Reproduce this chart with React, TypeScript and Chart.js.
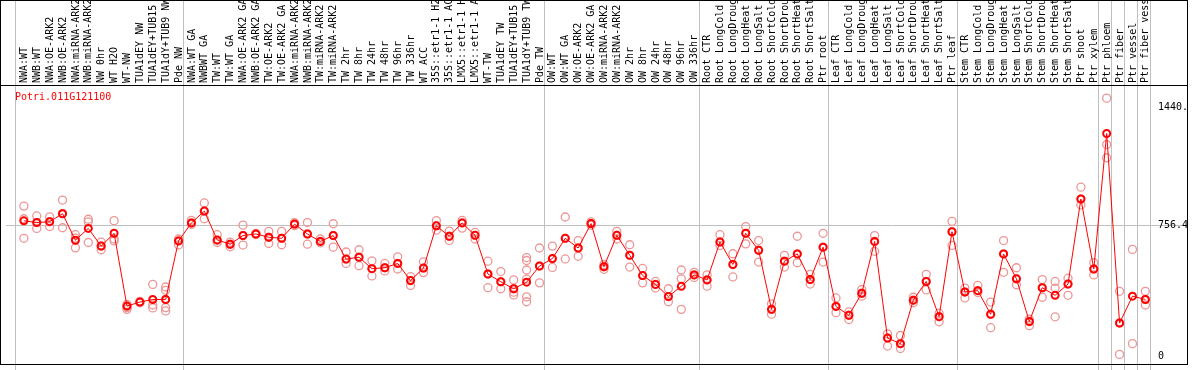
import React, { useEffect, useRef } from "react";
import { Chart, registerables } from "chart.js";

Chart.register(...registerables);

const geneName = "Potri.011G121100";

const groupSizes = [13, 28, 12, 10, 10, 11, 1, 1, 1, 1];

const categories = [
  "NWA:WT", "NWB:WT", "NWA:OE-ARK2", "NWB:OE-ARK2", "NWA:miRNA-ARK2", "NWB:miRNA-ARK2", "NW 0hr", "WT H2O", "WT-NW", "TUA1dEY NW", "TUA1dEY+TUB15", "TUA1dY+TUB9 NW", "Pde NW",
  "NWA:WT GA", "NWBWT GA", "TW:WT", "TW:WT GA", "NWA:OE-ARK2 GA", "NWB:OE-ARK2 GA", "TW:OE-ARK2", "TW:OE-ARK2 GA", "NWA:miRNA-ARK2", "NWB:miRNA-ARK2", "TW:miRNA-ARK2", "TW:miRNA-ARK2", "TW 2hr", "TW 8hr", "TW 24hr", "TW 48hr", "TW 96hr", "TW 336hr", "WT ACC", "35S::etr1-1 H2O", "35S::etr1-1 ACC", "LMX5::etr1-1 H2O", "LMX5::etr1-1 ACC", "WT-TW", "TUA1dEY TW", "TUA1dEY+TUB15", "TUA1dY+TUB9 TW", "Pde TW",
  "OW:WT", "OW:WT GA", "OW:OE-ARK2", "OW:OE-ARK2 GA", "OW:miRNA-ARK2", "OW:miRNA-ARK2", "OW 2hr", "OW 8hr", "OW 24hr", "OW 48hr", "OW 96hr", "OW 336hr",
  "Root CTR", "Root LongCold", "Root LongDrought", "Root LongHeat", "Root LongSalt", "Root ShortCold", "Root ShortDrought", "Root ShortHeat", "Root ShortSalt", "Ptr root",
  "Leaf CTR", "Leaf LongCold", "Leaf LongDrought", "Leaf LongHeat", "Leaf LongSalt", "Leaf ShortCold", "Leaf ShortDrought", "Leaf ShortHeat", "Leaf ShortSalt", "Ptr leaf",
  "Stem CTR", "Stem LongCold", "Stem LongDrought", "Stem LongHeat", "Stem LongSalt", "Stem ShortCold", "Stem ShortDrought", "Stem ShortHeat", "Stem ShortSalt", "Ptr shoot", "Ptr xylem",
  "Ptr phloem", "Ptr fiber", "Ptr vessel", "Ptr fiber vessel",
];

const means = [
  785, 775, 780, 826, 673, 741, 639, 713, 293, 316, 331, 331, 669,
  773, 841, 675, 650, 700, 709, 690, 684, 766, 709, 666, 700, 564, 575, 509, 514, 539, 440, 512, 756, 696, 773, 701, 478, 433, 393, 431, 524,
  567, 684, 628, 769, 520, 701, 586, 469, 418, 348, 407, 473,
  444, 663, 533, 713, 615, 274, 552, 594, 446, 633,
  291, 240, 367, 666, 108, 76, 327, 435, 232, 722,
  374, 382, 246, 594, 450, 204, 399, 355, 420, 911, 507,
  1289, 195, 350, 331,
];

const replicates = [
  [870, 797, 684], [813, 775, 741], [808, 780, 752], [905, 828, 745], [705, 685, 629], [794, 779, 660], [662, 639, 618], [786, 680, 669], [303, 293, 284, 274], [320, 316, 312], [418, 299, 282], [403, 384, 331, 284, 265], [680, 669, 646],
  [788, 773, 764], [888, 841, 797], [705, 671, 660], [662, 650, 635], [760, 700, 645], [709, 712, 706], [724, 690, 654], [724, 684, 647], [775, 766, 757], [775, 709, 650], [680, 666, 658], [768, 700, 633], [605, 564, 539], [618, 575, 526], [554, 509, 467], [539, 514, 496], [577, 539, 507], [463, 440, 412], [548, 512, 486], [786, 756, 731], [726, 696, 671], [788, 773, 743], [718, 701, 680], [552, 478, 399], [492, 433, 393], [444, 393, 373, 357], [573, 556, 501, 448, 346, 318], [628, 524, 427],
  [639, 567, 516], [807, 684, 565], [671, 628, 580], [779, 769, 760], [533, 520, 505], [724, 701, 680], [647, 586, 518], [510, 469, 427], [435, 418, 397], [393, 348, 318], [501, 450, 274], [488, 473, 458],
  [473, 444, 408], [705, 663, 643], [595, 533, 461], [752, 713, 652], [671, 615, 547], [306, 274, 246], [586, 552, 518], [696, 594, 543], [476, 446, 420], [713, 633, 547],
  [340, 291, 255], [259, 240, 215], [388, 367, 350], [700, 666, 609], [133, 108, 62], [123, 76, 48], [344, 327, 312], [476, 435, 386], [252, 232, 202], [782, 722, 643],
  [397, 374, 340], [412, 382, 371], [316, 246, 168], [671, 594, 488], [514, 450, 416], [218, 204, 180], [446, 399, 344], [435, 397, 231], [454, 420, 355], [979, 911, 877], [543, 507, 473],
  [1493, 1225, 1149], [378, 195, 14], [620, 76], [378, 331, 299],
];

const yTickValues = [0, 756.4, 1440.6];
const yTickLabels = ["0", "756.4", "1440.6"];
const yGridValues = [756.4];

const FONT = '10px "DejaVu Sans Mono", monospace';

const efpPlugin = {
  id: "efpDecor",
  beforeDatasetsDraw(chart: any) {
    const { ctx, chartArea, scales } = chart;
    const xs = scales.x;
    const ys = scales.y;
    ctx.save();
    ctx.strokeStyle = "#c0c0c0";
    ctx.lineWidth = 1;
    yGridValues.forEach((v) => {
      const py = Math.floor(ys.getPixelForValue(v)) + 0.5;
      ctx.beginPath();
      ctx.moveTo(chartArea.left, py);
      ctx.lineTo(chartArea.right, py);
      ctx.stroke();
    });
    const seps: number[] = [-0.68];
    let acc = 0;
    groupSizes.forEach((n) => {
      acc += n;
      seps.push(acc - 0.6);
    });
    seps.forEach((v) => {
      const px = Math.floor(xs.getPixelForValue(v)) + 0.5;
      ctx.beginPath();
      ctx.moveTo(px, 0);
      ctx.lineTo(px, chart.height);
      ctx.stroke();
    });

    // category labels (rotated, in header)
    ctx.save();
    ctx.beginPath();
    ctx.rect(0, 1, chart.width, chartArea.top - 1);
    ctx.clip();
    ctx.fillStyle = "#000";
    ctx.font = FONT;
    ctx.textAlign = "left";
    ctx.textBaseline = "middle";
    categories.forEach((c, i) => {
      const px = xs.getPixelForValue(i);
      ctx.save();
      ctx.translate(px + 0.5, chartArea.top - 2);
      ctx.rotate(-Math.PI / 2);
      ctx.fillText(c, 0, 0);
      ctx.restore();
    });
    ctx.restore();

    // gene name
    ctx.fillStyle = "#ff0000";
    ctx.font = FONT;
    ctx.textAlign = "left";
    ctx.textBaseline = "middle";
    ctx.fillText(geneName, chartArea.left + 9, chartArea.top + 12);

    // right-side value labels
    ctx.save();
    ctx.beginPath();
    ctx.rect(chartArea.left, chartArea.top, chartArea.right - chartArea.left - 1, chartArea.bottom - chartArea.top);
    ctx.clip();
    ctx.fillStyle = "#000";
    yTickValues.forEach((v, k) => {
      ctx.fillText(yTickLabels[k], chartArea.right - 30, ys.getPixelForValue(v));
    });
    ctx.restore();
    ctx.restore();
  },
  afterDraw(chart: any) {
    const { ctx, chartArea } = chart;
    ctx.save();
    ctx.strokeStyle = "#000";
    ctx.lineWidth = 1;
    ctx.beginPath();
    ctx.moveTo(0, chartArea.top + 0.5);
    ctx.lineTo(chartArea.right, chartArea.top + 0.5);
    ctx.stroke();
    ctx.strokeRect(0.5, 0.5, chartArea.right - 1, chartArea.bottom);
    ctx.restore();
  },
};

export default function App() {
  const canvasRef = useRef<HTMLCanvasElement | null>(null);

  useEffect(() => {
    const canvas = canvasRef.current;
    if (!canvas) return;
    const meanData = means.map((v, i) => ({ x: i, y: v }));
    const repData = replicates.flatMap((r, i) => r.map((v) => ({ x: i, y: v })));
    const chart = new Chart(canvas, {
      type: "line",
      data: {
        datasets: [
          {
            label: "mean",
            data: meanData,
            borderColor: "#ff0000",
            borderWidth: 1,
            pointRadius: 3.5,
            pointBorderWidth: 2,
            pointBorderColor: "#ff0000",
            pointBackgroundColor: "rgba(255,255,255,0)",
            tension: 0,
            order: 0,
          } as any,
          {
            label: "replicates",
            data: repData,
            showLine: false,
            borderColor: "#ec9696",
            backgroundColor: "rgba(255,255,255,0)",
            pointRadius: 4,
            pointBorderWidth: 1.3,
            pointBorderColor: "#ec9696",
            pointBackgroundColor: "rgba(255,255,255,0)",
            order: 1,
          } as any,
        ],
      },
      options: {
        animation: false,
        responsive: false,
        maintainAspectRatio: false,
        layout: { padding: { left: 1, right: 1, top: 85, bottom: 1 } },
        scales: {
          x: { type: "linear", min: -18 / 13, max: -18 / 13 + 1192 / 13, display: false },
          y: { type: "linear", min: -41.4, max: 1568.9, display: false },
        },
        plugins: {
          legend: { display: false },
          tooltip: { enabled: false },
        },
      },
      plugins: [efpPlugin],
    });
    return () => chart.destroy();
  }, []);

  return (
    <div style={{ position: "fixed", left: 0, top: 0, width: 1194, height: 370, background: "#fff" }}>
      <canvas ref={canvasRef} width={1194} height={370} style={{ display: "block", width: 1194, height: 370 }} />
    </div>
  );
}
